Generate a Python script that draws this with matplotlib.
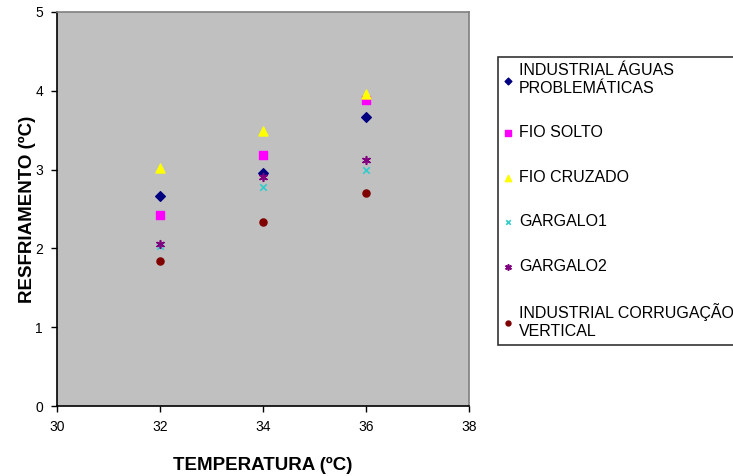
import matplotlib
matplotlib.use("Agg")
import matplotlib.pyplot as plt

plt.rcParams['font.family'] = ['Liberation Sans', 'DejaVu Sans']

temperatura = [32, 34, 36]

industrial_aguas = [2.66, 2.96, 3.67]
fio_solto = [2.43, 3.18, 3.88]
fio_cruzado = [3.02, 3.49, 3.96]
gargalo1 = [2.03, 2.78, 2.99]
gargalo2 = [2.05, 2.90, 3.12]
industrial_corrug = [1.84, 2.33, 2.70]

labels = ["INDUSTRIAL ÁGUAS\nPROBLEMÁTICAS", "FIO SOLTO", "FIO CRUZADO",
          "GARGALO1", "GARGALO2", "INDUSTRIAL CORRUGAÇÃO\nVERTICAL"]

fig = plt.figure(figsize=(7.33, 4.76), dpi=100)
ax = fig.add_axes([57/733, 1-406/476, (469-57)/733, (406-12)/476])
ax.set_facecolor('#C0C0C0')

ax.scatter(temperatura, industrial_aguas, marker='D', s=24, color='#000080', label=labels[0])
ax.scatter(temperatura, fio_solto, marker='s', s=32, color='#FF00FF', label=labels[1])
ax.scatter(temperatura, fio_cruzado, marker='^', s=42, color='#FFFF00', label=labels[2])
ax.scatter(temperatura, gargalo1, marker='x', s=22, color='#33CCCC', linewidths=1.2, label=labels[3])
ax.scatter(temperatura, gargalo2, marker=(6, 2, 0), s=30, color='#800080', linewidths=1.2, label=labels[4])
ax.scatter(temperatura, industrial_corrug, marker='o', s=26, color='#800000', label=labels[5])

ax.set_xlim(30, 38)
ax.set_ylim(0, 5)
ax.set_xticks([30, 32, 34, 36, 38])
ax.set_yticks([0, 1, 2, 3, 4, 5])
ax.tick_params(direction='out', length=4, width=1, labelsize=10, pad=6)
for s in ['left', 'bottom']:
    ax.spines[s].set_color('black')
    ax.spines[s].set_linewidth(1.2)
for s in ['top', 'right']:
    ax.spines[s].set_color('#808080')
    ax.spines[s].set_linewidth(1.2)

ax.set_xlabel("TEMPERATURA (ºC)", fontsize=13.5, fontweight='bold')
ax.set_ylabel("RESFRIAMENTO (ºC)", fontsize=13.5, fontweight='bold')
ax.xaxis.set_label_coords(0.5, -0.13)
ax.yaxis.set_label_coords(-0.052, 0.5)

leg = fig.legend(loc='upper left', bbox_to_anchor=(498/733, 1-57/476),
                 fontsize=11.5, frameon=True, fancybox=False, edgecolor='black',
                 handlelength=0.5, handletextpad=0.4, labelspacing=1.85,
                 borderpad=0.4, borderaxespad=0, scatterpoints=1, markerscale=0.7)
leg.get_frame().set_linewidth(1.2)

fig.savefig('out.png', dpi=100)
